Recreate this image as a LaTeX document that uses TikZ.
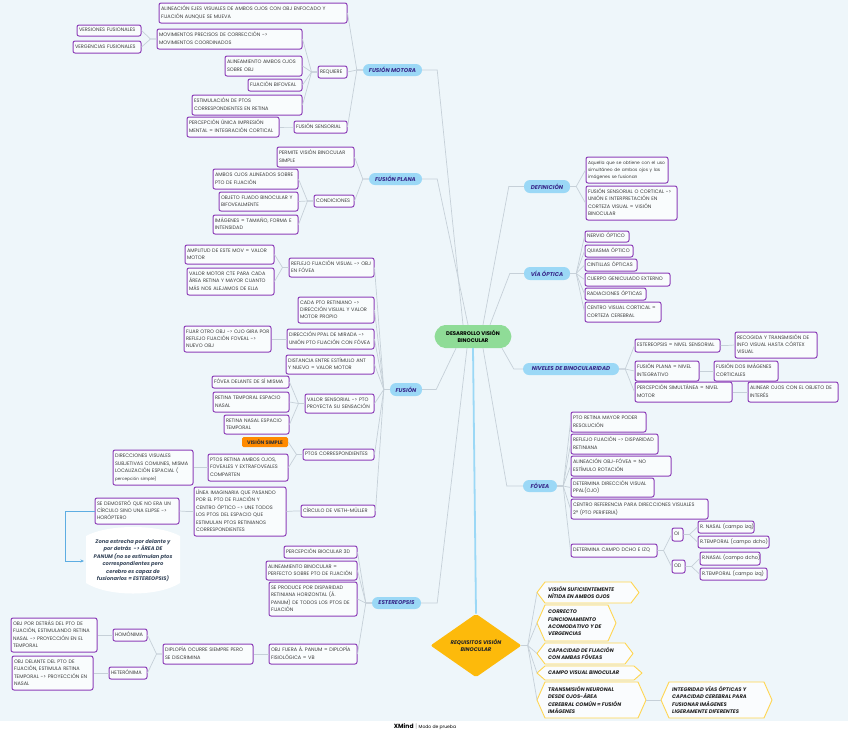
\documentclass[tikz,border=0pt]{standalone}
\usepackage{fontspec}
\setmainfont{Poppins}
\usetikzlibrary{arrows.meta,shapes.geometric}
\definecolor{bg}{HTML}{EEF6FA}
\definecolor{pur}{HTML}{8D3FB8}
\definecolor{pillc}{HTML}{9BD8F6}
\definecolor{pilltxt}{HTML}{3A2C8C}
\definecolor{connc}{HTML}{C6D0D8}
\definecolor{txt}{HTML}{3C3C3C}
\definecolor{goldc}{HTML}{FDBA0B}
\definecolor{hexline}{HTML}{FFD54F}
\definecolor{orng}{HTML}{FF8A00}
\definecolor{cgreen}{HTML}{8FDC97}
\definecolor{arrowc}{HTML}{5DADE2}
\definecolor{calltxt}{HTML}{3B4A5E}
\tikzset{
 pbox/.style={draw=pur, line width=1pt, fill=white!65!bg, rounded corners=2pt, inner xsep=2pt, inner ysep=0.5pt,
   font=\fontsize{5}{7.4}\selectfont, text=txt, align=left},
 pillnode/.style={fill=pillc, rounded corners=6pt, font=\fontsize{5.6}{6}\selectfont\bfseries\itshape, text=pilltxt, inner sep=0pt, align=center},
 cn/.style={draw=connc, line width=0.7pt},
 hexfont/.style={font=\fontsize{5.2}{7.3}\selectfont\bfseries\itshape, text=black!85, align=left, inner sep=0pt},
}
\newcommand\bx[6]{%
 \pgfmathsetmacro\bxw{#4-#2}\pgfmathsetmacro\bxh{#5-#3}\pgfmathsetmacro\bxt{#4-#2-4}%
 \node[pbox, minimum width=\bxw pt, minimum height=\bxh pt, text width=\bxt pt] (#1) at ({(#2+#4)/2},{(#3+#5)/2}) {\begin{tabular}{@{}l@{}}#6\end{tabular}};}
\newcommand\pl[6]{%
 \pgfmathsetmacro\bxw{#4-#2}\pgfmathsetmacro\bxh{#5-#3}%
 \node[pillnode, minimum width=\bxw pt, minimum height=\bxh pt] (#1) at ({(#2+#4)/2},{(#3+#5)/2}) {#6};}
\newcommand\hx[6]{%
 \pgfmathsetmacro\hxm{(#3+#5)/2}%
 \draw[draw=hexline, line width=0.9pt, fill=white!70!bg, line join=round] (#2,\hxm) -- (#2+8,#3) -- (#4-8,#3) -- (#4,\hxm) -- (#4-8,#5) -- (#2+8,#5) -- cycle;
 \node[hexfont, anchor=west] (#1) at (#2+11,\hxm) {#6};
 \coordinate (#1W) at (#2,\hxm); \coordinate (#1E) at (#4,\hxm);}
\newcommand\cl[2]{\draw[cn] (#1.west) -- ++(-6,0) -- (#2.east);}
\newcommand\cR[2]{\draw[cn] (#1.east) -- ++(6,0) -- (#2.west);}
\begin{document}
\begin{tikzpicture}[x=1pt,y=-1pt]
\useasboundingbox (0,0) rectangle (848,732);
\fill[bg] (0,0) rectangle (848,732);
\fill[white] (0,721) rectangle (848,732);

% ---------- center ----------
\fill[cgreen, rounded corners=5pt] (433,336.5) -- (440,325) -- (506,325) -- (513,336.5) -- (506,348) -- (440,348) -- cycle;
\node[minimum width=80pt, minimum height=23pt, inner sep=0pt, align=center, font=\fontsize{5.3}{7.2}\selectfont\bfseries] (center) at (473,336.5) {DESARROLLO VISIÓN\\BINOCULAR};

% ---------- FUSIÓN MOTORA ----------
\bx{a1}{159}{3}{347}{23}{ALINEACIÓN EJES VISUALES DE AMBOS OJOS CON OBJ ENFOCADO Y\\FIJACIÓN AUNQUE SE MUEVA}
\bx{vers}{77}{25}{141}{36}{VERSIONES FUSIONALES}
\bx{verg}{73}{41}{141}{53}{VERGENCIAS FUSIONALES}
\bx{movp}{157}{29}{302}{49}{MOVIMIENTOS PRECISOS DE CORRECCIÓN ->\\MOVIMIENTOS COORDINADOS}
\bx{alam}{225}{56}{302}{76}{ALINEAMIENTO AMBOS OJOS\\SOBRE OBJ}
\bx{fbif}{248}{79}{302}{91}{FIJACIÓN BIFOVEAL}
\bx{estim}{192}{95}{302}{115}{ESTIMULACIÓN DE PTOS\\CORRESPONDIENTES EN RETINA}
\bx{req}{318}{66}{347}{78}{REQUIERE}
\pl{fmot}{363}{64}{422}{76}{FUSIÓN MOTORA}
\bx{percu}{187}{117}{279}{137}{PERCEPCIÓN ÚNICA IMPRESIÓN\\MENTAL = INTEGRACIÓN CORTICAL}
\bx{fsens}{294}{121}{347}{133}{FUSIÓN SENSORIAL}

% ---------- FUSIÓN PLANA ----------
\bx{perm}{277}{147}{354}{167}{PERMITE VISIÓN BINOCULAR\\SIMPLE}
\pl{fpla}{369}{173}{422}{185}{FUSIÓN PLANA}
\bx{ambos}{213}{169}{298}{189}{AMBOS OJOS ALINEADOS SOBRE\\PTO DE FIJACIÓN}
\bx{objf}{219}{192}{298}{211}{OBJETO FIJADO BINOCULAR Y\\BIFOVEALMENTE}
\bx{imag}{213}{215}{298}{234}{IMÁGENES = TAMAÑO, FORMA E\\INTENSIDAD}
\bx{cond}{314}{195}{354}{207}{CONDICIONES}

% ---------- FUSIÓN ----------
\bx{ampl}{185}{245}{274}{264}{AMPLITUD DE ESTE MOV = VALOR\\MOTOR}
\bx{vmc}{187}{268}{274}{295}{VALOR MOTOR CTE PARA CADA\\ÁREA RETINA Y MAYOR CUANTO\\MÁS NOS ALEJAMOS DE ELLA}
\bx{refl}{289}{258}{374}{277}{REFLEJO FIJACIÓN VISUAL -> OBJ\\EN FÓVEA}
\bx{cada}{298}{297}{374}{323}{CADA PTO RETINIANO ->\\DIRECCIÓN VISUAL Y VALOR\\MOTOR PROPIO}
\bx{fijar}{184}{326}{271}{352}{FIJAR OTRO OBJ -> OJO GIRA POR\\REFLEJO FIJACIÓN FOVEAL ->\\NUEVO OBJ}
\bx{dirp}{287}{329}{374}{349}{DIRECCIÓN PPAL DE MIRADA ->\\UNIÓN PTO FIJACIÓN CON FÓVEA}
\bx{dist}{286}{355}{374}{374}{DISTANCIA ENTRE ESTÍMULO ANT\\Y NUEVO = VALOR MOTOR}
\pl{fus}{390}{383}{422}{396}{FUSIÓN}
\bx{fovd}{212}{376}{289}{388}{FÓVEA DELANTE DE SÍ MISMA}
\bx{rtemp}{213}{392}{289}{412}{RETINA TEMPORAL ESPACIO\\NASAL}
\bx{vsens}{305}{394}{374}{413}{VALOR SENSORIAL -> PTO\\PROYECTA SU SENSACIÓN}
\bx{rnas}{224}{415}{289}{434}{RETINA NASAL ESPACIO\\TEMPORAL}
\node[fill=orng, rounded corners=1.5pt, minimum width=46pt, minimum height=10pt, inner sep=0pt,
  font=\fontsize{5}{5}\selectfont\bfseries, text=black!80] (vsimp) at (265,442) {VISIÓN SIMPLE};
\bx{ptosc}{303}{449}{374}{460}{PTOS CORRESPONDIENTES}
\bx{dirv}{113}{450}{193}{485}{DIRECCIONES VISUALES\\SUBJETIVAS COMUNES, MISMA\\LOCALIZACIÓN ESPACIAL (\\{\fontsize{4.2}{6}\selectfont percepción simple)}}
\bx{ptosr}{208}{454}{288}{481}{PTOS RETINA AMBOS OJOS,\\FOVEALES Y EXTRAFOVEALES\\COMPARTEN}
\bx{linea}{194}{487}{286}{536}{LÍNEA IMAGINARIA QUE PASANDO\\POR EL PTO DE FIJACIÓN Y\\CENTRO ÓPTICO -> UNE TODOS\\LOS PTOS DEL ESPACIO QUE\\ESTIMULAN PTOS RETINIANOS\\CORRESPONDIENTES}
\bx{circ}{301}{505}{375}{517}{CÍRCULO DE VIETH-MÜLLER}
\bx{horo}{95}{498}{179}{524}{SE DEMOSTRÓ QUE NO ERA UN\\CÍRCULO SINO UNA ELIPSE ->\\HORÓPTERO}

% callout
\fill[white] (86,536) .. controls (108,524) and (158,524) .. (180,536) -- (180,583) .. controls (158,597) and (108,597) .. (86,583) -- cycle;
\node[align=center, inner sep=0pt, font=\fontsize{5.2}{7.5}\selectfont\bfseries\itshape, text=calltxt] (panum) at (133,560.5)
 {Zona estrecha por delante y\\por detrás\ \ -> ÁREA DE\\PANUM (no se estimulan ptos\\correspondientes pero\\cerebro es capaz de\\fusionarlos = ESTEREOPSIS)};
\coordinate (panumW) at (84,561);
\draw[draw=arrowc, line width=0.8pt, -{Stealth[length=3.5pt,width=3pt]}] (horo.west) -- ++(-29,0) |- (panumW);

% ---------- ESTEREOPSIS ----------
\bx{p3d}{284}{546}{357}{558}{PERCEPCIÓN BIOCULAR 3D}
\bx{alb}{266}{561}{357}{580}{ALINEAMIENTO BINOCULAR =\\PERFECTO SOBRE PTO DE FIJACIÓN}
\bx{sepr}{269}{582}{357}{616}{SE PRODUCE POR DISPARIDAD\\RETINIANA HORIZONTAL (Á.\\PANUM) DE TODOS LOS PTOS DE\\FIJACIÓN}
\pl{est}{372}{597}{421}{609}{ESTEREOPSIS}
\bx{objfu}{269}{644}{357}{664}{OBJ FUERA Á. PANUM = DIPLOPÍA\\FISIOLÓGICA = VB}
\bx{dipl}{163}{644}{253}{664}{DIPLOPÍA OCURRE SIEMPRE PERO\\SE DISCRIMINA}
\bx{homo}{113}{629}{147}{641}{HOMÓNIMA}
\bx{hete}{109}{667}{147}{679}{HETERÓNIMA}
\bx{objd}{11}{618}{97}{652}{OBJ POR DETRÁS DEL PTO DE\\FIJACIÓN, ESTIMULANDO RETINA\\NASAL -> PROYECCIÓN EN EL\\TEMPORAL}
\bx{objde}{12}{656}{93}{690}{OBJ DELANTE DEL PTO DE\\FIJACIÓN, ESTIMULA RETINA\\TEMPORAL -> PROYECCIÓN EN\\NASAL}

% ---------- right side ----------
\pl{def}{524}{180}{570}{193}{DEFINICIÓN}
\bx{aq}{586}{157}{668}{183}{\fontsize{4.4}{7.4}\selectfont Aquella que se obtiene con el uso\\\fontsize{4.4}{7.4}\selectfont simultáneo de ambos ojos y las\\\fontsize{4.4}{7.4}\selectfont imágenes se fusionan}
\bx{fsoc}{586}{186}{677}{220}{FUSIÓN SENSORIAL O CORTICAL ->\\UNIÓN E INTERPRETACIÓN EN\\CORTEZA VISUAL = VISIÓN\\BINOCULAR}
\pl{via}{524}{267}{570}{280}{VÍA ÓPTICA}
\bx{nerv}{585}{231}{629}{242}{NERVIO ÓPTICO}
\bx{quia}{585}{245}{633}{257}{QUIASMA ÓPTICO}
\bx{cint}{585}{259}{637}{271}{CINTILLAS ÓPTICAS}
\bx{cuer}{585}{273}{670}{286}{CUERPO GENICULADO EXTERNO}
\bx{radi}{585}{288}{646}{300}{RADIACIONES ÓPTICAS}
\bx{centv}{585}{302}{661}{322}{CENTRO VISUAL CORTICAL =\\CORTEZA CEREBRAL}
\pl{niv}{523}{363}{619}{375}{NIVELES DE BINOCULARIDAD}
\bx{esn}{635}{339}{720}{352}{ESTEREOPSIS = NIVEL SENSORIAL}
\bx{reco}{735}{332}{817}{358}{RECOGIDA Y TRANSMISIÓN DE\\INFO VISUAL HASTA CÓRTEX\\VISUAL}
\bx{fpn}{635}{361}{699}{381}{FUSIÓN PLANA = NIVEL\\INTEGRATIVO}
\bx{fdos}{714}{361}{778}{381}{FUSIÓN DOS IMÁGENES\\CORTICALES}
\bx{psim}{635}{382}{732}{402}{PERCEPCIÓN SIMULTÁNEA = NIVEL\\MOTOR}
\bx{alin}{748}{382}{838}{402}{ALINEAR OJOS CON EL OBJETO DE\\INTERÉS}
\pl{fov}{523}{480}{557}{492}{FÓVEA}
\bx{f1}{571}{412}{646}{432}{PTO RETINA MAYOR PODER\\RESOLUCIÓN}
\bx{f2}{571}{434}{658}{454}{REFLEJO FIJACIÓN -> DISPARIDAD\\RETINIANA}
\bx{f3}{571}{456}{671}{476}{ALINEACIÓN OBJ-FÓVEA = NO\\ESTÍMULO ROTACIÓN}
\bx{f4}{571}{478}{654}{497}{DETERMINA DIRECCIÓN VISUAL\\PPAL(OJO)}
\bx{f5}{571}{499}{708}{519}{CENTRO REFERENCIA PARA DIRECCIONES VISUALES\\2ª (PTO PERIFERIA)}
\bx{f6}{571}{544}{657}{557}{DETERMINA CAMPO DCHO E IZQ}
\bx{oi}{672}{528}{683}{541}{OI}
\bx{od}{672}{560}{685}{573}{OD}
\bx{rn1}{698}{521}{754}{533}{R. NASAL (campo izq)}
\bx{rt1}{698}{536}{769}{548}{R.TEMPORAL (campo dcho)}
\bx{rn2}{700}{552}{760}{565}{R.NASAL (campo dcho)}
\bx{rt2}{700}{568}{767}{580}{R.TEMPORAL (campo izq)}

% ---------- REQUISITOS ----------
\node[diamond, fill=goldc, minimum width=91pt, minimum height=45pt, inner sep=0pt, rounded corners=2pt, align=center,
  font=\fontsize{5.3}{7.3}\selectfont\bfseries\itshape, text=black!85] (reqb) at (476,645.5) {REQUISITOS VISIÓN\\BINOCULAR};
\hx{h1}{537}{582}{639}{603}{VISIÓN SUFICIENTEMENTE\\NÍTIDA EN AMBOS OJOS}
\hx{h2}{537}{605}{616}{641}{CORRECTO\\FUNCIONAMIENTO\\ACOMODATIVO Y DE\\VERGENCIAS}
\hx{h3}{537}{643}{633}{664}{CAPACIDAD DE FIJACIÓN\\CON AMBAS FÓVEAS}
\hx{h4}{537}{666}{642}{680}{CAMPO VISUAL BINOCULAR}
\hx{h5}{537}{682}{646}{718}{TRANSMISIÓN NEURONAL\\DESDE OJOS-ÁREA\\CEREBRAL COMÚN = FUSIÓN\\IMÁGENES}
\hx{h6}{661}{682}{772}{718}{INTEGRIDAD VÍAS ÓPTICAS Y\\CAPACIDAD CEREBRAL PARA\\FUSIONAR IMÁGENES\\LIGERAMENTE DIFERENTES}

% ---------- connectors ----------
\cl{fmot}{a1} \cl{fmot}{req} \cl{fmot}{fsens}
\cl{req}{movp} \cl{req}{alam} \cl{req}{fbif} \cl{req}{estim}
\cl{movp}{vers} \cl{movp}{verg}
\cl{fsens}{percu}
\cl{fpla}{perm} \cl{fpla}{cond}
\cl{cond}{ambos} \cl{cond}{objf} \cl{cond}{imag}
\cl{fus}{refl} \cl{fus}{cada} \cl{fus}{dirp} \cl{fus}{dist} \cl{fus}{vsens} \cl{fus}{ptosc} \cl{fus}{circ}
\cl{refl}{ampl} \cl{refl}{vmc}
\cl{dirp}{fijar}
\cl{vsens}{fovd} \cl{vsens}{rtemp} \cl{vsens}{rnas}
\cl{ptosc}{vsimp} \cl{ptosc}{ptosr}
\cl{ptosr}{dirv}
\cl{circ}{linea}
\cl{linea}{horo}
\cl{est}{p3d} \cl{est}{alb} \cl{est}{sepr} \cl{est}{objfu}
\cl{objfu}{dipl}
\cl{dipl}{homo} \cl{dipl}{hete}
\cl{homo}{objd} \cl{hete}{objde}
\cR{def}{aq} \cR{def}{fsoc}
\cR{via}{nerv} \cR{via}{quia} \cR{via}{cint} \cR{via}{cuer} \cR{via}{radi} \cR{via}{centv}
\cR{niv}{esn} \cR{niv}{fpn} \cR{niv}{psim}
\cR{esn}{reco} \cR{fpn}{fdos} \cR{psim}{alin}
\cR{fov}{f1} \cR{fov}{f2} \cR{fov}{f3} \cR{fov}{f4} \cR{fov}{f5} \cR{fov}{f6}
\cR{f6}{oi} \cR{f6}{od}
\cR{oi}{rn1} \cR{oi}{rt1} \cR{od}{rn2} \cR{od}{rt2}
\foreach \h in {h1,h2,h3,h4,h5}{\draw[cn] (reqb.east) -- ++(6,0) -- (\h W);}
\draw[cn] (h5E) -- (h6W);
% main branches
\draw[cn] (fmot.east) -- ++(15,0) -- ([xshift=-10pt]center.north);
\draw[cn] (fpla.east) -- ++(15,0) -- ([xshift=-5pt]center.north);
\draw[cn] (fus.east) -- ++(14,0) -- ([xshift=-17pt]center.south);
\draw[cn] (est.east) -- ++(16,0) -- ([xshift=-6pt]center.south);
\draw[cn] (def.west) -- ++(-15,0) -- ([xshift=10pt]center.north);
\draw[cn] (via.west) -- ++(-14,0) -- ([xshift=17pt]center.north);
\draw[cn] (niv.west) -- ++(-9,0) -- ([xshift=29pt]center.south);
\draw[cn] (fov.west) -- ++(-16,0) -- ([xshift=10pt]center.south);
\draw[draw=pillc, line width=1.8pt] (center.south) -- (reqb.north);

% footer
\node[inner sep=0pt, text=black] (foot) at (425,726.5)
 {{\fontsize{6}{6}\selectfont\bfseries XMind}\,{\color{black!40}\fontsize{6}{6}\selectfont|}\,{\fontsize{4.5}{5}\selectfont Modo de prueba}};
\end{tikzpicture}
\end{document}
